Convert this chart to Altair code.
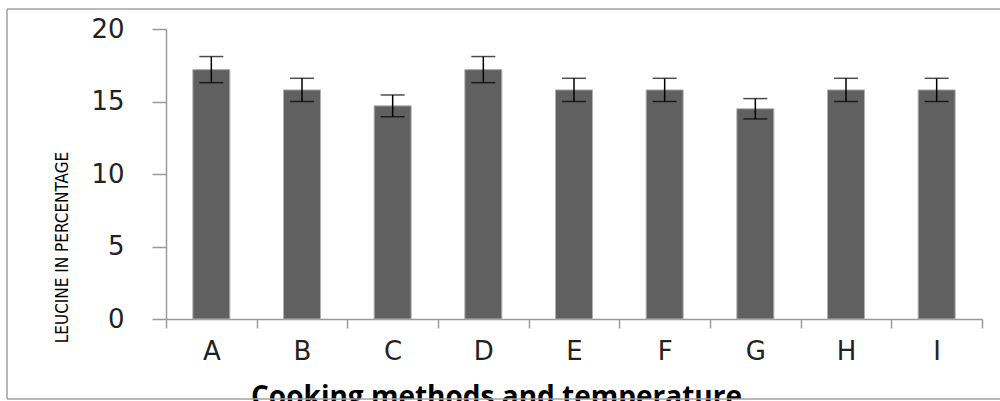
import altair as alt
import pandas as pd

categories = ["A", "B", "C", "D", "E", "F", "G", "H", "I"]
values = [17.2, 15.8, 14.7, 17.2, 15.8, 15.8, 14.5, 15.8, 15.8]
errors = [0.9, 0.8, 0.75, 0.9, 0.8, 0.8, 0.7, 0.8, 0.8]

df = pd.DataFrame({"cat": categories, "val": values, "err": errors})
df["lo"] = df["val"] - df["err"]
df["hi"] = df["val"] + df["err"]

x_enc = alt.X(
    "cat:N",
    sort=categories,
    scale=alt.Scale(paddingInner=0, paddingOuter=0),
    axis=alt.Axis(
        title="Cooking methods and temperature",
        titleFont="Open Sans",
        titleFontSize=28,
        titleFontWeight="bold",
        titleColor="#000000",
        titleX=330,
        titleY=64,
        titleAlign="center",
        titleBaseline="top",
        labelAngle=0,
        labelFont="DejaVu Sans",
        labelFontSize=26,
        labelColor="#222222",
        labelPadding=10,
        tickBand="extent",
        tickSize=9,
        tickColor="#999999",
        tickWidth=1.5,
        domainColor="#999999",
        domainWidth=1.5,
    ),
)

y_enc = alt.Y(
    "val:Q",
    scale=alt.Scale(domain=[0, 20], nice=False),
    axis=alt.Axis(
        title="LEUCINE IN PERCENTAGE",
        titleFont="DejaVu Sans Condensed, Liberation Sans Narrow, Liberation Sans, sans-serif",
        titleFontSize=17,
        titleFontWeight="normal",
        titleColor="#000000",
        titleAngle=-90,
        titleX=-104,
        titleY=218,
        titleAlign="center",
        titleBaseline="middle",
        values=[0, 5, 10, 15, 20],
        labelFont="DejaVu Sans",
        labelFontSize=26,
        labelColor="#222222",
        labelPadding=28,
        tickSize=14,
        tickColor="#999999",
        tickWidth=1.5,
        domainColor="#999999",
        domainWidth=1.5,
        grid=False,
    ),
)

bars = alt.Chart(df).mark_bar(
    width=37, color="#606060", stroke="#b0b0b0", strokeWidth=1
).encode(x=x_enc, y=y_enc)

rules = alt.Chart(df).mark_rule(color="#000000", strokeWidth=1.5).encode(
    x=alt.X("cat:N", sort=categories), y="lo:Q", y2="hi:Q"
)
caps_hi = alt.Chart(df).mark_tick(color="#000000", thickness=1.5, size=24).encode(
    x=alt.X("cat:N", sort=categories), y="hi:Q"
)
caps_lo = alt.Chart(df).mark_tick(color="#000000", thickness=1.5, size=24).encode(
    x=alt.X("cat:N", sort=categories), y="lo:Q"
)

one = pd.DataFrame({"f": [0]})
frame_style = dict(color="#a0a0a0", strokeWidth=1.5)
frame_top = alt.Chart(one).mark_rule(**frame_style).encode(
    x=alt.value(-159), x2=alt.value(860), y=alt.value(-20)
)
frame_bottom = alt.Chart(one).mark_rule(**frame_style).encode(
    x=alt.value(-159), x2=alt.value(860), y=alt.value(370)
)
frame_left = alt.Chart(one).mark_rule(**frame_style).encode(
    x=alt.value(-159), y=alt.value(-20), y2=alt.value(370)
)

chart = alt.layer(
    bars, rules, caps_hi, caps_lo, frame_top, frame_bottom, frame_left
).properties(
    width=816,
    height=290,
    autosize=alt.AutoSizeParams(type="none"),
    padding={"left": 166, "top": 29, "right": 18, "bottom": 82},
    background="#ffffff",
).configure_view(stroke=None)

chart.save("out.html", embed_options={"renderer": "svg", "actions": False})
